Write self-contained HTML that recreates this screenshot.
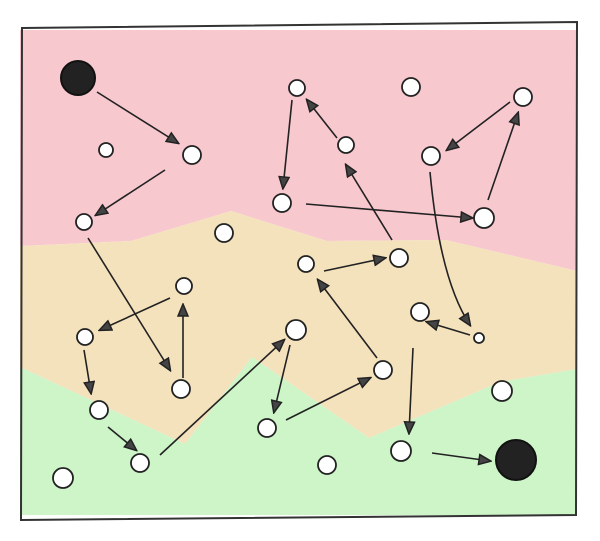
<!DOCTYPE html>
<html><head><meta charset="utf-8"><style>html,body{margin:0;padding:0;background:#fff}svg{display:block}</style></head>
<body>
<svg width="600" height="541" viewBox="0 0 600 541" xmlns="http://www.w3.org/2000/svg">
<defs>
<marker id="a" markerWidth="14" markerHeight="12" refX="12" refY="6" orient="auto" markerUnits="userSpaceOnUse">
<path d="M1,1 L13,6 L1,11 Z" fill="#444" stroke="#222" stroke-width="1.5"/>
</marker>
</defs>
<polygon points="20,30 577,30 577,271 446,240 327,241 231,211 131,241 20,246" fill="#f8c8cf"/>
<polygon points="20,246 131,241 231,211 327,241 446,240 577,271 577,369 500,382 369,438 252,357 185,444 20,367" fill="#f4e2bd"/>
<polygon points="20,367 185,444 252,357 369,438 500,382 577,369 577,515 20,515" fill="#cdf5c8"/>
<g fill="none" stroke="#333" stroke-width="2">
<path d="M22,28 L577,22 L576,515 L21,520 Z"/>
</g>
<g fill="none" stroke="#222" stroke-width="1.6" marker-end="url(#a)">
<line x1="97" y1="92" x2="178" y2="143"/>
<line x1="165" y1="170" x2="96" y2="215"/>
<line x1="88" y1="238" x2="170" y2="370"/>
<line x1="170" y1="298" x2="100" y2="330"/>
<line x1="183" y1="378" x2="183" y2="305"/>
<line x1="84" y1="350" x2="91" y2="393"/>
<line x1="108" y1="427" x2="136" y2="450"/>
<line x1="160" y1="455" x2="284" y2="340"/>
<line x1="290" y1="345" x2="274" y2="412"/>
<line x1="286" y1="420" x2="370" y2="378"/>
<line x1="377" y1="358" x2="318" y2="280"/>
<line x1="324" y1="271" x2="385" y2="258"/>
<line x1="392" y1="240" x2="346" y2="165"/>
<line x1="337" y1="138" x2="307" y2="100"/>
<line x1="292" y1="100" x2="283" y2="188"/>
<line x1="306" y1="204" x2="472" y2="218"/>
<line x1="488" y1="200" x2="518" y2="113"/>
<line x1="510" y1="102" x2="447" y2="150"/>
<path d="M430,172 Q440,280 470,325"/>
<line x1="470" y1="335" x2="427" y2="322"/>
<line x1="413" y1="348" x2="409" y2="433"/>
<line x1="432" y1="453" x2="490" y2="461"/>
</g>
<g fill="#222" stroke="#111" stroke-width="2">
<circle cx="78" cy="78" r="17"/>
<circle cx="516" cy="460" r="20"/>
</g>
<g fill="#fff" stroke="#222" stroke-width="1.8">
<circle cx="297" cy="88" r="8"/><circle cx="411" cy="87" r="9"/><circle cx="523" cy="97" r="9"/>
<circle cx="106" cy="150" r="7"/><circle cx="192" cy="155" r="9"/><circle cx="346" cy="145" r="8"/>
<circle cx="431" cy="156" r="9"/><circle cx="282" cy="203" r="9"/><circle cx="484" cy="218" r="10"/>
<circle cx="84" cy="222" r="8"/><circle cx="224" cy="233" r="9"/><circle cx="306" cy="264" r="8"/>
<circle cx="399" cy="258" r="9"/><circle cx="184" cy="286" r="8"/><circle cx="85" cy="337" r="8"/>
<circle cx="420" cy="312" r="9"/><circle cx="479" cy="338" r="5"/><circle cx="296" cy="330" r="10"/>
<circle cx="383" cy="370" r="9"/><circle cx="181" cy="389" r="9"/><circle cx="502" cy="391" r="10"/>
<circle cx="99" cy="410" r="9"/><circle cx="267" cy="428" r="9"/><circle cx="140" cy="463" r="9"/>
<circle cx="401" cy="451" r="10"/><circle cx="63" cy="478" r="10"/><circle cx="327" cy="465" r="9"/>
</g>
</svg>
</body></html>
